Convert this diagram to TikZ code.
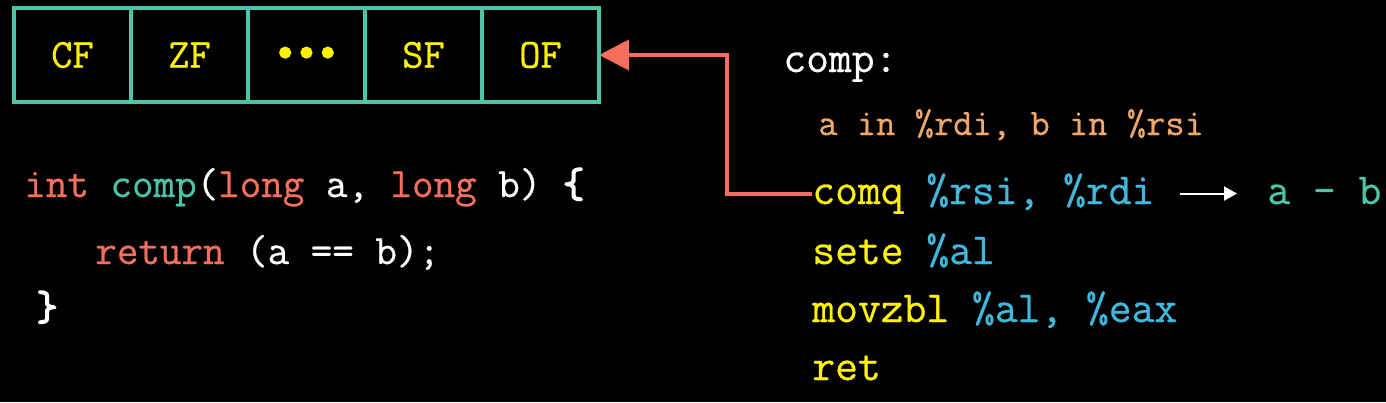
\documentclass[tikz,border=0pt]{standalone}
\usepackage{fontspec}
\setmonofont{Latin Modern Mono}[FakeBold=0.6,
  BoldFont=Latin Modern Mono,BoldFeatures={FakeBold=3.5}]
\definecolor{BgBlack}{HTML}{000000}
\definecolor{FlagTeal}{HTML}{4DC4A8}
\definecolor{KeyRed}{HTML}{F4705C}
\definecolor{InstrYellow}{HTML}{FFF200}
\definecolor{RegBlue}{HTML}{40B8DC}
\definecolor{NoteOrange}{HTML}{F0A868}
\usepackage{tikz}
\usetikzlibrary{arrows.meta,positioning}

\begin{document}
\begin{tikzpicture}[
        flag/.style={draw=FlagTeal,line width=0.08cm,outer sep=0pt,
                     minimum width=2.34cm,minimum height=1.88cm,
                     font=\ttfamily\fontsize{23.5}{27}\selectfont,text=InstrYellow},
        code/.style={anchor=base west,inner sep=0pt,
                     font=\ttfamily\fontsize{23.8}{27}\selectfont,text=white},
        asm/.style={anchor=base west,inner sep=0pt,
                    font=\ttfamily\fontsize{25.2}{29}\selectfont,text=InstrYellow},
        note/.style={anchor=base west,inner sep=0pt,
                     font=\ttfamily\fontsize{21.3}{25}\selectfont,text=NoteOrange}]

        \fill[BgBlack] (0,0) rectangle (27.72,-8.04);
        \useasboundingbox (0,0) rectangle (27.72,-8.04);

        % flag register
        \node[flag] (cf) at (1.45,-1.10) {CF};
        \node[flag,right=0pt of cf] (zf) {ZF};
        \node[flag,right=0pt of zf] (dots) {{\bfseries\textbullet\textbullet\textbullet}};
        \node[flag,right=0pt of dots] (sf) {SF};
        \node[flag,right=0pt of sf] (of) {OF};

        % C source
        \node[code] (src1) at (0.48,-3.94)
          {\textcolor{KeyRed}{int} \textcolor{FlagTeal}{comp}(\textcolor{KeyRed}{long} a, \textcolor{KeyRed}{long} b) {\bfseries\{}};
        \node[code] (src2) at (1.90,-5.28)
          {\textcolor{KeyRed}{return} (a == b);};
        \node[code] (src3) at (0.72,-6.40) {{\bfseries\}}};

        % assembly
        \node[asm,text=white] (label) at (15.66,-1.44) {comp:};
        \node[note] (args) at (16.36,-2.70) {a in \%rdi, b in \%rsi};
        \node[asm] (cmp) at (16.24,-4.08) {comq \textcolor{RegBlue}{\%rsi, \%rdi}};
        \node[asm] (sete) at (16.24,-5.28) {sete \textcolor{RegBlue}{\%al}};
        \node[asm] (movz) at (16.24,-6.44) {movzbl \textcolor{RegBlue}{\%al, \%eax}};
        \node[asm] (ret) at (16.24,-7.60) {ret};
        \node[asm,text=FlagTeal] (diff) at (25.34,-4.08) {a - b};

        \coordinate (bend) at (14.54,0);
        \draw[KeyRed,line width=0.08cm,-{Triangle[length=0.6cm,width=0.6cm]}]
          (cmp.west) -- (cmp.west -| bend) |- (of.east);
        \draw[white,line width=0.04cm,-{Triangle[length=0.26cm,width=0.28cm]},
              shorten <=0.5cm]
          (cmp.east) -- ([xshift=-0.6cm]cmp.east -| diff.west);
\end{tikzpicture}
\end{document}
